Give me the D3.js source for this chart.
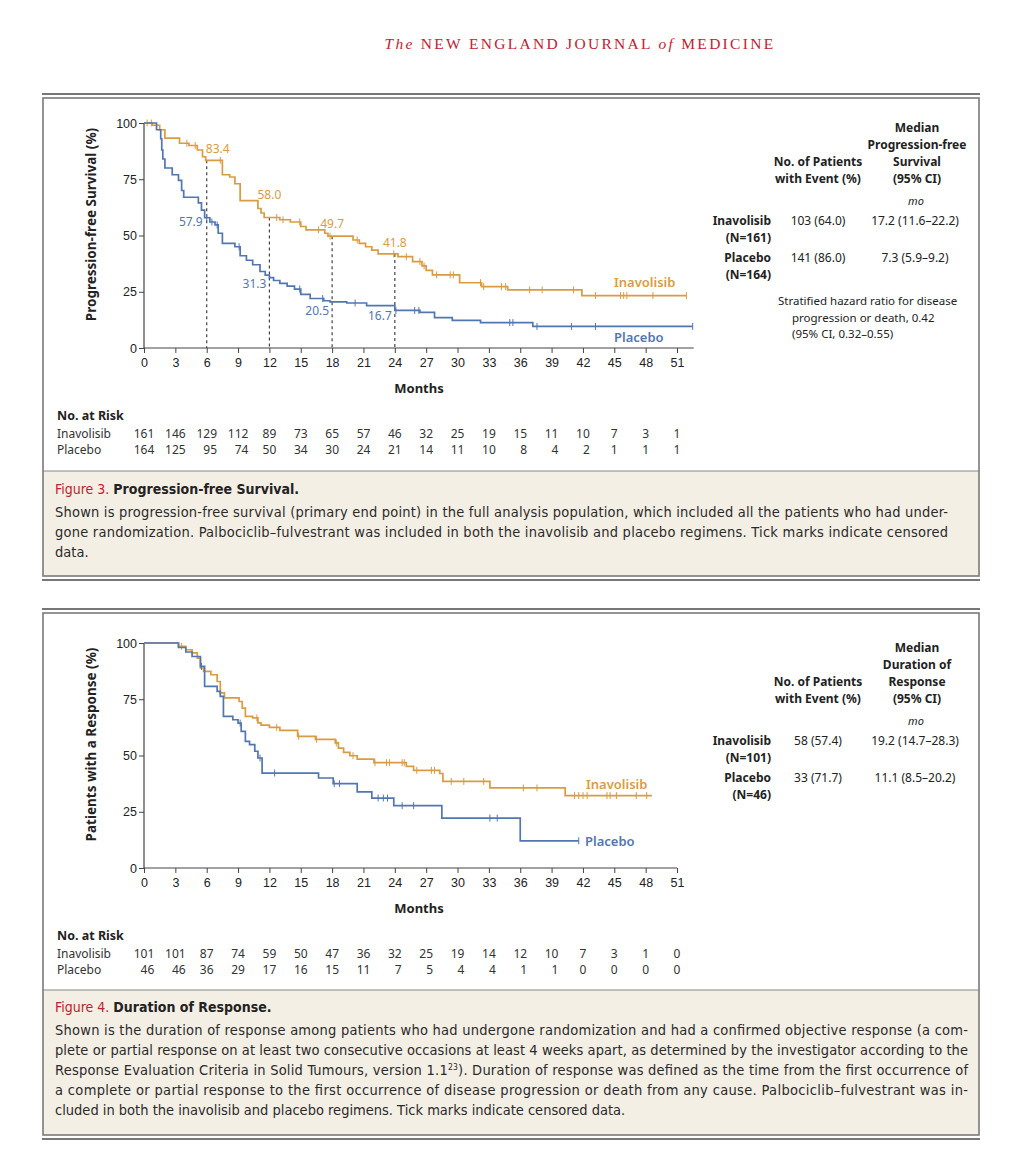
<!DOCTYPE html>
<html>
<head>
<meta charset="utf-8">
<script src="https://cdn.jsdelivr.net/npm/d3@7"></script>
<style>
  body { margin: 0; background: #fff; }
  svg { display: block; font-family: "Noto Sans", "Open Sans", sans-serif; }
  .tick text { font-size: 12.5px; fill: #222; }
  .tick line { stroke: #444; }
</style>
</head>
<body>
<svg id="chart" width="1023" height="1158"></svg>
<script>
// ---- data ----
const monthTicks = [0, 3, 6, 9, 12, 15, 18, 21, 24, 27, 30, 33, 36, 39, 42, 45, 48, 51];
const pctTicks = [0, 25, 50, 75, 100];
const groups = ["Inavolisib", "Placebo"];

// Figure 3: progression-free survival, steps as [month, % after step]
const pfsInavolisib = [[0, 100], [0.8, 99], [1.5, 97], [2.0, 93.3], [3.4, 91], [4.3, 90], [5.1, 88], [5.6, 85], [5.9, 83.4],
  [7.5, 77], [8.2, 76], [8.7, 73], [9.2, 65.5], [10.9, 62], [11.2, 60], [11.5, 58], [13.0, 57], [14.0, 56], [15.0, 54],
  [15.5, 52.5], [17.3, 51], [17.6, 49.7], [20.0, 48], [20.6, 46.5], [21.2, 45], [21.8, 43.5], [22.4, 41.8], [24.3, 40.6],
  [25.7, 38.4], [26.6, 36.5], [27.0, 34.5], [27.6, 32.5], [30.2, 29], [32.3, 27.3], [34.8, 25.8], [41.9, 23.3]];
const pfsInavolisibEnd = 51.9;
const pfsInavolisibCensor = [0.3, 0.7, 4.1, 4.9, 7.3, 12.7, 13.3, 14.9, 16.7, 17.8, 20.4, 23.9, 25.1, 26.4, 26.8, 28.0,
  29.3, 29.6, 32.2, 32.5, 34.2, 34.6, 36.9, 38.1, 41.1, 43.2, 45.6, 45.9, 46.2, 48.7, 51.9];

const pfsPlacebo = [[0, 100], [1.2, 97], [1.6, 93], [1.7, 88], [1.8, 84], [2.0, 80], [2.7, 77], [3.3, 74.5], [3.6, 70],
  [3.8, 67], [5.2, 64.5], [5.5, 61.3], [5.8, 57.9], [6.3, 56], [6.8, 54.7], [7.1, 51], [7.5, 46.5], [8.7, 45], [9.2, 41],
  [9.8, 39], [10.4, 37], [11.1, 34], [11.6, 32.4], [12.0, 31.3], [12.4, 30], [13.0, 28.7], [13.7, 27.5], [14.4, 26.2],
  [15.0, 23.8], [15.9, 22], [17.2, 21], [17.8, 20.5], [19.4, 20], [21.3, 18.8], [24.0, 16.7], [26.4, 15.8], [27.8, 13.5],
  [29.5, 12.3], [32.2, 11.3], [37.2, 9.6]];
const pfsPlaceboEnd = 52.5;
const pfsPlaceboCensor = [6.0, 6.5, 7.0, 9.1, 14.9, 17.1, 20.2, 24.1, 25.9, 26.3, 35.0, 35.3, 37.6, 40.9, 43.2, 52.5];

const pfsLandmarks = [6, 12, 18, 24];
const pfsLandmarkInavolisib = ["83.4", "58.0", "49.7", "41.8"];
const pfsLandmarkPlacebo = ["57.9", "31.3", "20.5", "16.7"];

const pfsRiskInavolisib = [161, 146, 129, 112, 89, 73, 65, 57, 46, 32, 25, 19, 15, 11, 10, 7, 3, 1];
const pfsRiskPlacebo = [164, 125, 95, 74, 50, 34, 30, 24, 21, 14, 11, 10, 8, 4, 2, 1, 1, 1];

// Figure 4: duration of response
const dorInavolisib = [[0, 100], [3.3, 98.5], [4.0, 97], [4.6, 95.6], [5.1, 93.3], [5.4, 88.9], [5.7, 87.4], [6.4, 85.9],
  [7.0, 82.9], [7.3, 77.8], [7.7, 75.6], [9.1, 74], [9.4, 71.1], [9.7, 67.4], [10.4, 66.7], [10.9, 64.5], [11.2, 63.5],
  [12.0, 62.5], [13.0, 61.2], [14.7, 58.5], [16.4, 57.2], [18.3, 55.6], [18.6, 53.3], [19.1, 51.4], [19.7, 49.9],
  [20.4, 48.4], [22.0, 46.8], [25.1, 45.2], [25.8, 43.4], [28.3, 42], [28.6, 38.5], [33.1, 35.6], [40.3, 32.2]];
const dorInavolisibEnd = 48.6;
const dorInavolisibCensor = [3.6, 7.3, 10.8, 12.7, 14.8, 16.5, 18.4, 20.0, 22.1, 23.2, 23.5, 24.7, 24.9, 26.1, 27.5, 27.8,
  29.4, 30.6, 32.5, 36.3, 37.6, 41.2, 41.6, 42.0, 42.4, 44.3, 44.6, 45.2, 47.1, 48.1];

const dorPlacebo = [[0, 100], [3.3, 98], [4.0, 96], [4.6, 94], [5.4, 89.6], [5.8, 80.7], [7.0, 78.5], [7.3, 76.3],
  [7.6, 67.4], [8.5, 65.9], [9.0, 64.4], [9.3, 60.7], [9.7, 56.3], [10.1, 54.8], [10.6, 51.9], [10.9, 48.9], [11.3, 42.2],
  [16.7, 40], [18.1, 37.5], [20.4, 33.8], [21.8, 31.1], [23.9, 27.7], [28.5, 22.2], [36.0, 12.1]];
const dorPlaceboEnd = 41.6;
const dorPlaceboCensor = [5.5, 9.2, 11.1, 12.5, 18.2, 18.7, 22.4, 22.9, 23.3, 24.7, 25.8, 33.1, 33.8, 41.6];

const dorRiskInavolisib = [101, 101, 87, 74, 59, 50, 47, 36, 32, 25, 19, 14, 12, 10, 7, 3, 1, 0];
const dorRiskPlacebo = [46, 46, 36, 29, 17, 16, 15, 11, 7, 5, 4, 4, 1, 1, 0, 0, 0, 0];

const fig3Caption = [
  "Shown is progression-free survival (primary end point) in the full analysis population, which included all the patients who had under-",
  "gone randomization. Palbociclib\u2013fulvestrant was included in both the inavolisib and placebo regimens. Tick marks indicate censored",
  "data."
];
const fig4Caption = [
  "Shown is the duration of response among patients who had undergone randomization and had a confirmed objective response (a com-",
  "plete or partial response on at least two consecutive occasions at least 4 weeks apart, as determined by the investigator according to the",
  "Response Evaluation Criteria in Solid Tumours, version 1.1|23|). Duration of response was defined as the time from the first occurrence of",
  "a complete or partial response to the first occurrence of disease progression or death from any cause. Palbociclib\u2013fulvestrant was in-",
  "cluded in both the inavolisib and placebo regimens. Tick marks indicate censored data."
];

// ---- drawing ----
const orange = "#DA9B42", blue = "#5276B0", red = "#C3202F", ink = "#222";
const svg = d3.select("#chart");
const x = d3.scaleLinear().domain([0, 51]).range([144, 677]);

function stepValue(steps, t) {
  let v = steps[0][1];
  for (const s of steps) { if (s[0] <= t) v = s[1]; else break; }
  return v;
}

// masthead
const head = svg.append("text").attr("x", 580).attr("y", 49).attr("text-anchor", "middle")
  .attr("font-family", "'Liberation Serif', 'DejaVu Serif', serif").attr("font-size", 15.5)
  .attr("letter-spacing", 2.3).attr("fill", red);
head.append("tspan").attr("font-style", "italic").text("The ");
head.append("tspan").text("NEW ENGLAND JOURNAL ");
head.append("tspan").attr("font-style", "italic").text("of ");
head.append("tspan").text("MEDICINE");

function frame(top, divider, bottom) {
  svg.append("line").attr("x1", 42).attr("x2", 980).attr("y1", top - 4).attr("y2", top - 4)
    .attr("stroke", "#777").attr("stroke-width", 2.2);
  svg.append("rect").attr("x", 43).attr("y", divider).attr("width", 936).attr("height", bottom - divider)
    .attr("fill", "#F4EFE5");
  svg.append("line").attr("x1", 43).attr("x2", 979).attr("y1", divider).attr("y2", divider)
    .attr("stroke", "#888").attr("stroke-width", 1);
  svg.append("rect").attr("x", 43).attr("y", top).attr("width", 936).attr("height", bottom - top)
    .attr("fill", "none").attr("stroke", "#7a7a7a").attr("stroke-width", 1.6);
  svg.append("line").attr("x1", 42).attr("x2", 980).attr("y1", bottom + 4).attr("y2", bottom + 4)
    .attr("stroke", "#777").attr("stroke-width", 2.2);
}

function drawPanel(p) {
  const y = d3.scaleLinear().domain([0, 100]).range([p.top + 225, p.top]);
  const g = svg.append("g");

  // dashed landmark lines (drawn under curves)
  if (p.landmarks) {
    p.landmarks.forEach(t => {
      g.append("line").attr("x1", x(t)).attr("x2", x(t))
        .attr("y1", y(stepValue(p.series[0].steps, t))).attr("y2", y(0))
        .attr("stroke", "#444").attr("stroke-width", 1.2).attr("stroke-dasharray", "3,3");
    });
  }

  // axes
  const gx = g.append("g").attr("transform", `translate(0,${y(0)})`)
    .call(d3.axisBottom(x).tickValues(monthTicks).tickSize(5).tickSizeOuter(0).tickPadding(5));
  gx.select(".domain").remove();
  gx.append("line").attr("x1", x(0)).attr("x2", x(p.axisEnd)).attr("stroke", "#444").attr("stroke-width", 1.2);

  const gy = g.append("g").attr("transform", `translate(${x(0)},0)`)
    .call(d3.axisLeft(y).tickValues(pctTicks).tickSize(5).tickSizeOuter(0).tickPadding(2));
  gy.select(".domain").remove();
  gy.append("line").attr("y1", y(0)).attr("y2", y(100)).attr("stroke", "#444").attr("stroke-width", 1.2);

  g.append("text").attr("transform", `translate(96,${y(50) - 11}) rotate(-90)`)
    .attr("text-anchor", "middle").attr("font-size", 13.5).attr("font-weight", 700).attr("fill", ink)
    .text(p.yTitle);
  g.append("text").attr("x", 419).attr("y", y(0) + 45).attr("text-anchor", "middle")
    .attr("font-size", 13).attr("font-weight", 700).attr("fill", ink).text("Months");

  // curves
  const line = d3.line().x(d => x(d[0])).y(d => y(d[1])).curve(d3.curveStepAfter);
  p.series.forEach(s => {
    const pts = s.steps.concat([[s.end, s.steps[s.steps.length - 1][1]]]);
    g.append("path").attr("d", line(pts)).attr("fill", "none").attr("stroke", s.color).attr("stroke-width", 1.7);
    g.selectAll(null).data(s.censor).enter().append("line")
      .attr("x1", d => x(d)).attr("x2", d => x(d))
      .attr("y1", d => y(stepValue(s.steps, d)) - 3.5).attr("y2", d => y(stepValue(s.steps, d)) + 3.5)
      .attr("stroke", s.color).attr("stroke-width", 1);
    g.append("text").attr("x", s.labelPos[0]).attr("y", s.labelPos[1]).attr("font-size", 13)
      .attr("font-weight", 600).attr("fill", s.color).text(s.name);
  });

  // landmark value labels
  if (p.landmarks) {
    p.landmarks.forEach((t, i) => {
      const a = p.landmarkLayout[i];
      g.append("text").attr("x", x(t) + a[0]).attr("y", y(stepValue(p.series[0].steps, t)) + a[1])
        .attr("text-anchor", "middle").attr("font-size", 12).attr("fill", orange).text(p.series[0].landmarkText[i]);
      g.append("text").attr("x", x(t) + a[2]).attr("y", y(stepValue(p.series[1].steps, t)) + a[3])
        .attr("text-anchor", "end").attr("font-size", 12).attr("fill", blue).text(p.series[1].landmarkText[i]);
    });
  }

  // number at risk
  const rTop = y(0) + 72;
  g.append("text").attr("x", 57).attr("y", rTop).attr("font-size", 12.5).attr("font-weight", 700)
    .attr("fill", ink).text("No. at Risk");
  const rows = p.series.map(s => s.risk);
  rows.forEach((row, r) => {
    g.append("text").attr("x", 57).attr("y", rTop + 18 + r * 15.5).attr("font-size", 12).attr("fill", "#333")
      .text(p.series[r].name);
  });
  monthTicks.forEach((t, i) => {
    const digits = Math.max(...rows.map(row => String(row[i]).length));
    rows.forEach((row, r) => {
      g.append("text").attr("x", x(t) + digits * 3.45).attr("y", rTop + 18 + r * 15.5)
        .attr("text-anchor", "end").attr("font-size", 12).attr("fill", "#333").text(row[i]);
    });
  });
}

function table(t) {
  const g = svg.append("g").attr("fill", ink).attr("font-size", 12);
  t.medHead.forEach((s, i) => g.append("text").attr("x", 917).attr("y", t.top + i * 17)
    .attr("text-anchor", "middle").attr("font-weight", 700).text(s));
  ["No. of Patients", "with Event (%)"].forEach((s, i) => g.append("text").attr("x", 818)
    .attr("y", t.top + 34 + i * 17).attr("text-anchor", "middle").attr("font-weight", 700).text(s));
  g.append("text").attr("x", 916).attr("y", t.top + 73).attr("text-anchor", "middle")
    .attr("font-style", "italic").attr("font-size", 11).text("mo");
  t.rows.forEach((r, i) => {
    const yy = t.top + 93 + i * 37;
    g.append("text").attr("x", 771).attr("y", yy).attr("text-anchor", "end").attr("font-weight", 700).text(r[0]);
    g.append("text").attr("x", 771).attr("y", yy + 17).attr("text-anchor", "end").attr("font-weight", 700).text(r[1]);
    g.append("text").attr("x", 818).attr("y", yy).attr("text-anchor", "middle").text(r[2]);
    g.append("text").attr("x", 915).attr("y", yy).attr("text-anchor", "middle").text(r[3]);
  });
  if (t.note) {
    t.note.forEach((s, i) => g.append("text").attr("x", i === 0 ? 778 : 792).attr("y", t.top + 173 + i * 16.5)
      .attr("font-size", 11.5).text(s));
  }
}

function caption(top, num, title, lines, right) {
  const g = svg.append("g").attr("font-family", "'Liberation Sans Narrow', 'DejaVu Sans Condensed', sans-serif");
  const tt = g.append("text").attr("x", 55).attr("y", top).attr("font-size", 14).attr("fill", ink);
  tt.append("tspan").attr("fill", red).text(num + " ");
  tt.append("tspan").attr("font-weight", 700).text(title);
  lines.forEach((s, i) => {
    const tx = g.append("text").attr("x", 55).attr("y", top + 23 + i * 20).attr("font-size", 14.5).attr("fill", "#2a2a2a");
    if (i < lines.length - 1) tx.attr("textLength", right - 55).attr("lengthAdjust", "spacing");
    s.split("|").forEach((part, k) => {
      const sp = tx.append("tspan").text(part);
      if (k === 1) sp.attr("font-size", 8.5).attr("dy", -5);
      if (k === 2) sp.attr("dy", 5);
    });
  });
}

// Figure 3
frame(98, 471, 576);
drawPanel({
  top: 123, axisEnd: 52.6, yTitle: "Progression-free Survival (%)",
  landmarks: pfsLandmarks,
  landmarkLayout: [[11, -7, -4, 8], [0, -19, -3, 10], [0, -8, -3, 13], [0, -7, -3, 10]],
  series: [
    { name: groups[0], color: orange, steps: pfsInavolisib, end: pfsInavolisibEnd, censor: pfsInavolisibCensor,
      risk: pfsRiskInavolisib, landmarkText: pfsLandmarkInavolisib, labelPos: [614, 287] },
    { name: groups[1], color: blue, steps: pfsPlacebo, end: pfsPlaceboEnd, censor: pfsPlaceboCensor,
      risk: pfsRiskPlacebo, landmarkText: pfsLandmarkPlacebo, labelPos: [614, 342] }
  ]
});
table({
  top: 132, medHead: ["Median", "Progression-free", "Survival", "(95% CI)"],
  rows: [["Inavolisib", "(N=161)", "103 (64.0)", "17.2 (11.6\u201322.2)"],
         ["Placebo", "(N=164)", "141 (86.0)", "7.3 (5.9\u20139.2)"]],
  note: ["Stratified hazard ratio for disease", "progression or death, 0.42", "(95% CI, 0.32\u20130.55)"]
});
caption(494, "Figure 3.", "Progression-free Survival.", fig3Caption, 948);

// Figure 4
frame(613, 990, 1135);
drawPanel({
  top: 643, axisEnd: 51, yTitle: "Patients with a Response (%)",
  series: [
    { name: groups[0], color: orange, steps: dorInavolisib, end: dorInavolisibEnd, censor: dorInavolisibCensor,
      risk: dorRiskInavolisib, labelPos: [586, 789] },
    { name: groups[1], color: blue, steps: dorPlacebo, end: dorPlaceboEnd, censor: dorPlaceboCensor,
      risk: dorRiskPlacebo, labelPos: [585, 846] }
  ]
});
table({
  top: 652, medHead: ["Median", "Duration of", "Response", "(95% CI)"],
  rows: [["Inavolisib", "(N=101)", "58 (57.4)", "19.2 (14.7\u201328.3)"],
         ["Placebo", "(N=46)", "33 (71.7)", "11.1 (8.5\u201320.2)"]]
});
caption(1012, "Figure 4.", "Duration of Response.", fig4Caption, 968);
</script>
</body>
</html>
